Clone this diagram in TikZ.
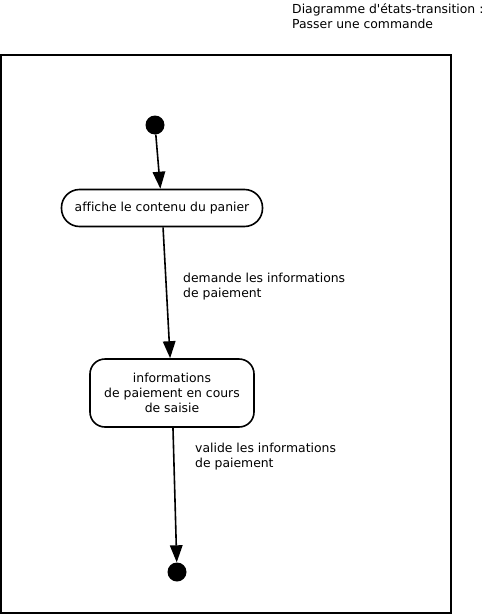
\documentclass[tikz,border=0pt]{standalone}
\usepackage{fontspec}
\newfontfamily\dvs{DejaVu Sans}[Ligatures=NoCommon]
\usetikzlibrary{arrows.meta}
\begin{document}
\begin{tikzpicture}[x=1pt,y=-1pt,
  every node/.style={font=\dvs\fontsize{12.4}{15}\selectfont, inner sep=0pt},
  dot/.style={circle, fill=black, minimum size=19pt, inner sep=0pt},
  statebox/.style={draw, line width=1.6pt, align=center},
  trans/.style={line width=1.6pt, -{Triangle[length=17pt,width=12.5pt]}},
  lbl/.style={anchor=north west, align=left}]
\useasboundingbox (0,0) rectangle (491,616);
\node[anchor=north west, align=left] (title) at (292,3.5) {Diagramme d'états-transition :\\Passer une commande};
\draw[line width=1.8pt] (1,55) rectangle (451,613);
\node[dot] (init) at (155,125) {};
\node[statebox, minimum width=201pt, minimum height=37pt, rounded corners=18pt] (s1) at (162,208) {affiche le contenu du panier};
\node[statebox, minimum width=164pt, minimum height=68pt, rounded corners=15pt] (s2) at (172,393) {informations\\de paiement en cours\\de saisie};
\node[dot] (fin) at (177,572) {};
\draw[trans] (init) -- (s1);
\draw[trans] (s1) -- (s2);
\draw[trans] (s2) -- (fin);
\node[lbl] (l1) at (183,273) {demande les informations\\de paiement};
\node[lbl] (l2) at (195,443) {valide les informations\\de paiement};
\end{tikzpicture}
\end{document}
